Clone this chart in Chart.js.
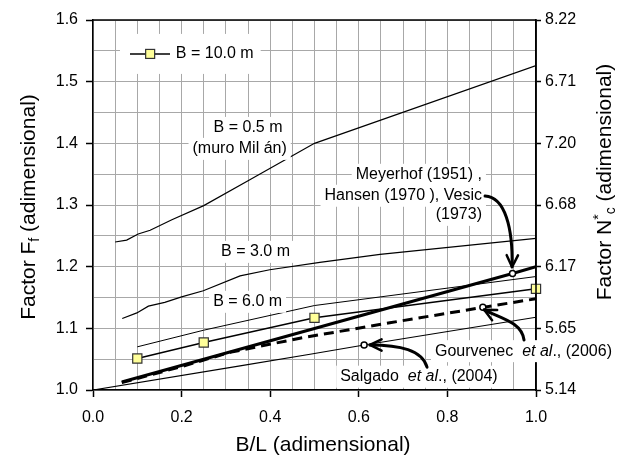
<!DOCTYPE html>
<html>
<head>
<meta charset="utf-8">
<script src="https://cdn.jsdelivr.net/npm/chart.js@4/dist/chart.umd.min.js"></script>
<style>
  body { margin: 0; background: #fff; }
</style>
</head>
<body>
<canvas id="chart" width="619" height="457"></canvas>
<script>
const FONT = "'Liberation Sans', Arial, sans-serif";

// values (x = B/L, y = Ff)
const b05X = [0.05, 0.076, 0.102, 0.129, 0.178, 0.25, 0.354, 0.5, 1.0];
const b05Y = [1.240, 1.243, 1.253, 1.259, 1.276, 1.299, 1.341, 1.400, 1.526];

const b30X = [0.066, 0.099, 0.125, 0.162, 0.200, 0.249, 0.332, 0.399, 0.512, 0.648, 1.0];
const b30Y = [1.116, 1.125, 1.136, 1.142, 1.151, 1.161, 1.185, 1.195, 1.207, 1.220, 1.246];

const b60X = [0.1, 0.25, 0.5, 1.0];
const b60Y = [1.070, 1.097, 1.137, 1.184];

const b100X = [0.1, 0.25, 0.5, 1.0];
const b100Y = [1.051, 1.077, 1.117, 1.164];

const meyerhofX = [0.065, 0.947, 1.0];
const meyerhofY = [1.013, 1.189, 1.200];

const gourvenecX = [0.065, 0.2, 0.309, 0.467, 0.67, 0.88, 1.0];
const gourvenecY = [1.012, 1.038, 1.061, 1.084, 1.109, 1.134, 1.148];

const salgadoX = [0, 0.332, 0.49, 0.612, 1.0];
const salgadoY = [1.0, 1.039, 1.058, 1.073, 1.118];

const rightTickLabels = ['5.14', '5.65', '6.17', '6.68', '7.20', '6.71', '8.22'];

// text notes placed in data coordinates
const notes = [
    { x: 0.350, y: 1.425, align: 'center', parts: [['B = 0.5 m']] },
    { x: 0.331, y: 1.391, align: 'center', parts: [['(muro Mil án)']] },
    { x: 0.367, y: 1.224, align: 'center', parts: [['B = 3.0 m']] },
    { x: 0.349, y: 1.143, align: 'center', parts: [['B = 6.0 m']] },
    { x: 0.878, y: 1.349, align: 'right', parts: [['Meyerhof (1951) ,']] },
    { x: 0.878, y: 1.315, align: 'right', parts: [['Hansen (1970 ), Vesic']] },
    { x: 0.878, y: 1.284, align: 'right', parts: [['(1973)']] },
    { x: 0.772, y: 1.063, align: 'left', parts: [['Gourvenec  '], ['et al', true], ['., (2006)']] },
    { x: 0.558, y: 1.0216, align: 'left', parts: [['Salgado  '], ['et al', true], ['., (2004)']] }
];

// curved arrows: start, control 1, control 2, tip
const arrows = [
    [[0.885, 1.3146], [0.930, 1.313], [0.948, 1.263], [0.946, 1.1995]],
    [[0.973, 1.081], [0.968, 1.110], [0.919, 1.117], [0.883, 1.130]],
    [[0.754, 1.037], [0.743, 1.065], [0.693, 1.073], [0.625, 1.073]]
];

const toPoints = (xs, ys) => xs.map((x, i) => ({ x: x, y: ys[i] }));

function line(label, xs, ys, extra) {
    return Object.assign({
        label: label,
        data: toPoints(xs, ys),
        showLine: true,
        borderColor: '#000',
        borderWidth: 1.2,
        pointRadius: 0,
        fill: false,
        tension: 0
    }, extra || {});
}

function markerAt(xs, idx) {
    return xs.map((x, i) => i === idx ? 3 : 0);
}

function drawParts(ctx, parts, x, cy, align, size) {
    let widths = parts.map(p => {
        ctx.font = (p[1] ? 'italic ' : '') + size + 'px ' + FONT;
        return ctx.measureText(p[0]).width;
    });
    const total = widths.reduce((a, b) => a + b, 0);
    let left = align === 'center' ? x - total / 2 : align === 'right' ? x - total : x;

    ctx.fillStyle = '#fff';
    ctx.fillRect(left - 4, cy - 11, total + 8, 22);

    ctx.fillStyle = '#000';
    ctx.textBaseline = 'middle';
    ctx.textAlign = 'left';
    parts.forEach((p, i) => {
        ctx.font = (p[1] ? 'italic ' : '') + size + 'px ' + FONT;
        ctx.fillText(p[0], left, cy);
        left += widths[i];
    });
}

// rich title: parts [text, size, dy]
function drawTitle(ctx, parts, cx, cy, rotate) {
    ctx.save();
    ctx.translate(cx, cy);
    if (rotate) ctx.rotate(-Math.PI / 2);
    let widths = parts.map(p => {
        ctx.font = p[1] + 'px ' + FONT;
        return ctx.measureText(p[0]).width;
    });
    const total = widths.reduce((a, b) => a + b, 0);
    let x = -total / 2;
    ctx.fillStyle = '#000';
    ctx.textBaseline = 'alphabetic';
    ctx.textAlign = 'left';
    parts.forEach((p, i) => {
        ctx.font = p[1] + 'px ' + FONT;
        ctx.fillText(p[0], x, 7.5 + p[2]);
        x += widths[i];
    });
    ctx.restore();
}

const decorPlugin = {
    id: 'decor',
    afterDraw(chart) {
        const ctx = chart.ctx;
        const a = chart.chartArea;
        const xs = chart.scales.x, ys = chart.scales.y;

        ctx.save();
        // frame top and right
        ctx.strokeStyle = '#000';
        ctx.lineWidth = 1.5;
        ctx.beginPath();
        ctx.moveTo(a.left, a.top);
        ctx.lineTo(a.right, a.top);
        ctx.lineTo(a.right, a.bottom);
        ctx.stroke();

        // notes
        notes.forEach(n => {
            drawParts(ctx, n.parts, xs.getPixelForValue(n.x), ys.getPixelForValue(n.y), n.align, 16);
        });

        // legend for B = 10.0 m
        const ly = ys.getPixelForValue(1.545);
        const lx0 = xs.getPixelForValue(0.0835), lx1 = xs.getPixelForValue(0.1738);
        const lsq = xs.getPixelForValue(0.129), ltx = xs.getPixelForValue(0.187);
        ctx.font = '16px ' + FONT;
        const lw = ctx.measureText('B = 10.0 m').width;
        ctx.fillStyle = '#fff';
        ctx.fillRect(lx0 - 10, ly - 20, ltx + lw + 7 - (lx0 - 10), 40);
        ctx.strokeStyle = '#000';
        ctx.lineWidth = 1.5;
        ctx.beginPath();
        ctx.moveTo(lx0, ly);
        ctx.lineTo(lx1, ly);
        ctx.stroke();
        ctx.fillStyle = '#ffff99';
        ctx.fillRect(lsq - 4.5, ly - 4.5, 9, 9);
        ctx.strokeStyle = '#333';
        ctx.lineWidth = 1.2;
        ctx.strokeRect(lsq - 4.5, ly - 4.5, 9, 9);
        ctx.fillStyle = '#000';
        ctx.textBaseline = 'middle';
        ctx.textAlign = 'left';
        ctx.fillText('B = 10.0 m', ltx, ly);

        // arrows
        ctx.strokeStyle = '#000';
        ctx.lineWidth = 3;
        ctx.lineCap = 'round';
        arrows.forEach(arr => {
            const p = arr.map(q => [xs.getPixelForValue(q[0]), ys.getPixelForValue(q[1])]);
            ctx.beginPath();
            ctx.moveTo(p[0][0], p[0][1]);
            ctx.bezierCurveTo(p[1][0], p[1][1], p[2][0], p[2][1], p[3][0], p[3][1]);
            ctx.stroke();
            const ang = Math.atan2(p[3][1] - p[2][1], p[3][0] - p[2][0]);
            ctx.lineWidth = 2.5;
            ctx.beginPath();
            [0.45, -0.45].forEach(d => {
                ctx.moveTo(p[3][0], p[3][1]);
                ctx.lineTo(p[3][0] - 13 * Math.cos(ang + d), p[3][1] - 13 * Math.sin(ang + d));
            });
            ctx.stroke();
            ctx.lineWidth = 3;
        });

        // axis titles
        drawTitle(ctx, [['B/L (adimensional)', 21, 0]], 323, 443, false);
        drawTitle(ctx, [['Factor F', 21, 0], ['f', 14, 4], [' (adimensional)', 21, 0]], 27, 207, true);
        drawTitle(ctx, [['Factor N', 21, 0], ['*', 14, -8], ['c', 14, 4], [' (adimensional)', 21, 0]], 603, 182, true);
        ctx.restore();
    }
};

const tickFont = { family: FONT, size: 16 };

new Chart(document.getElementById('chart'), {
    type: 'scatter',
    data: {
        datasets: [
            line('B = 0.5 m', b05X, b05Y),
            line('B = 3.0 m', b30X, b30Y),
            line('B = 6.0 m', b60X, b60Y, { borderWidth: 1 }),
            line('B = 10.0 m', b100X, b100Y, {
                borderWidth: 1.5,
                pointRadius: 6.5,
                pointStyle: 'rect',
                pointBackgroundColor: '#ffff99',
                pointBorderColor: '#333',
                pointBorderWidth: 1.2,
                clip: false
            }),
            line('Meyerhof', meyerhofX, meyerhofY, {
                borderWidth: 3,
                pointRadius: markerAt(meyerhofX, 1),
                pointBackgroundColor: '#fff',
                pointBorderColor: '#000',
                pointBorderWidth: 1.5
            }),
            line('Gourvenec', gourvenecX, gourvenecY, {
                borderWidth: 3,
                borderDash: [10, 6],
                pointRadius: markerAt(gourvenecX, 5),
                pointBackgroundColor: '#fff',
                pointBorderColor: '#000',
                pointBorderWidth: 1.5
            }),
            line('Salgado', salgadoX, salgadoY, {
                pointRadius: markerAt(salgadoX, 3),
                pointBackgroundColor: '#fff',
                pointBorderColor: '#000',
                pointBorderWidth: 1.5
            })
        ]
    },
    options: {
        responsive: false,
        animation: false,
        devicePixelRatio: 1,
        layout: { padding: { top: 20 } },
        plugins: {
            legend: { display: false },
            tooltip: { enabled: false }
        },
        scales: {
            x: {
                type: 'linear',
                min: 0,
                max: 1,
                ticks: {
                    stepSize: 0.05,
                    autoSkip: false,
                    maxRotation: 0,
                    color: '#000',
                    font: tickFont,
                    padding: 11,
                    callback: (v, i) => i % 4 === 0 ? v.toFixed(1) : ''
                },
                grid: {
                    color: '#a8a8a8',
                    lineWidth: 1,
                    tickLength: 7,
                    tickWidth: 1.5,
                    tickColor: c => c.index % 4 === 0 ? '#000' : 'rgba(0,0,0,0)'
                },
                border: { color: '#000', width: 1.5 },
                afterFit: s => { s.height = 67; }
            },
            y: {
                position: 'left',
                min: 1,
                max: 1.6,
                ticks: {
                    stepSize: 0.05,
                    autoSkip: false,
                    color: '#000',
                    font: tickFont,
                    padding: 8,
                    callback: (v, i) => i % 2 === 0 ? v.toFixed(1) : ''
                },
                grid: {
                    color: '#a8a8a8',
                    lineWidth: 1,
                    tickLength: 7,
                    tickWidth: 1.5,
                    tickColor: c => c.index % 2 === 0 ? '#000' : 'rgba(0,0,0,0)'
                },
                border: { color: '#000', width: 1.5 },
                afterFit: s => { s.width = 93; }
            },
            y2: {
                position: 'right',
                min: 1,
                max: 1.6,
                ticks: {
                    stepSize: 0.1,
                    autoSkip: false,
                    color: '#000',
                    font: tickFont,
                    padding: 4,
                    callback: (v, i) => rightTickLabels[i]
                },
                grid: {
                    drawOnChartArea: false,
                    tickLength: 5,
                    tickWidth: 1.5,
                    tickColor: '#000'
                },
                border: { color: '#000', width: 1.5 },
                afterFit: s => { s.width = 83; }
            }
        }
    },
    plugins: [decorPlugin]
});
</script>
</body>
</html>
